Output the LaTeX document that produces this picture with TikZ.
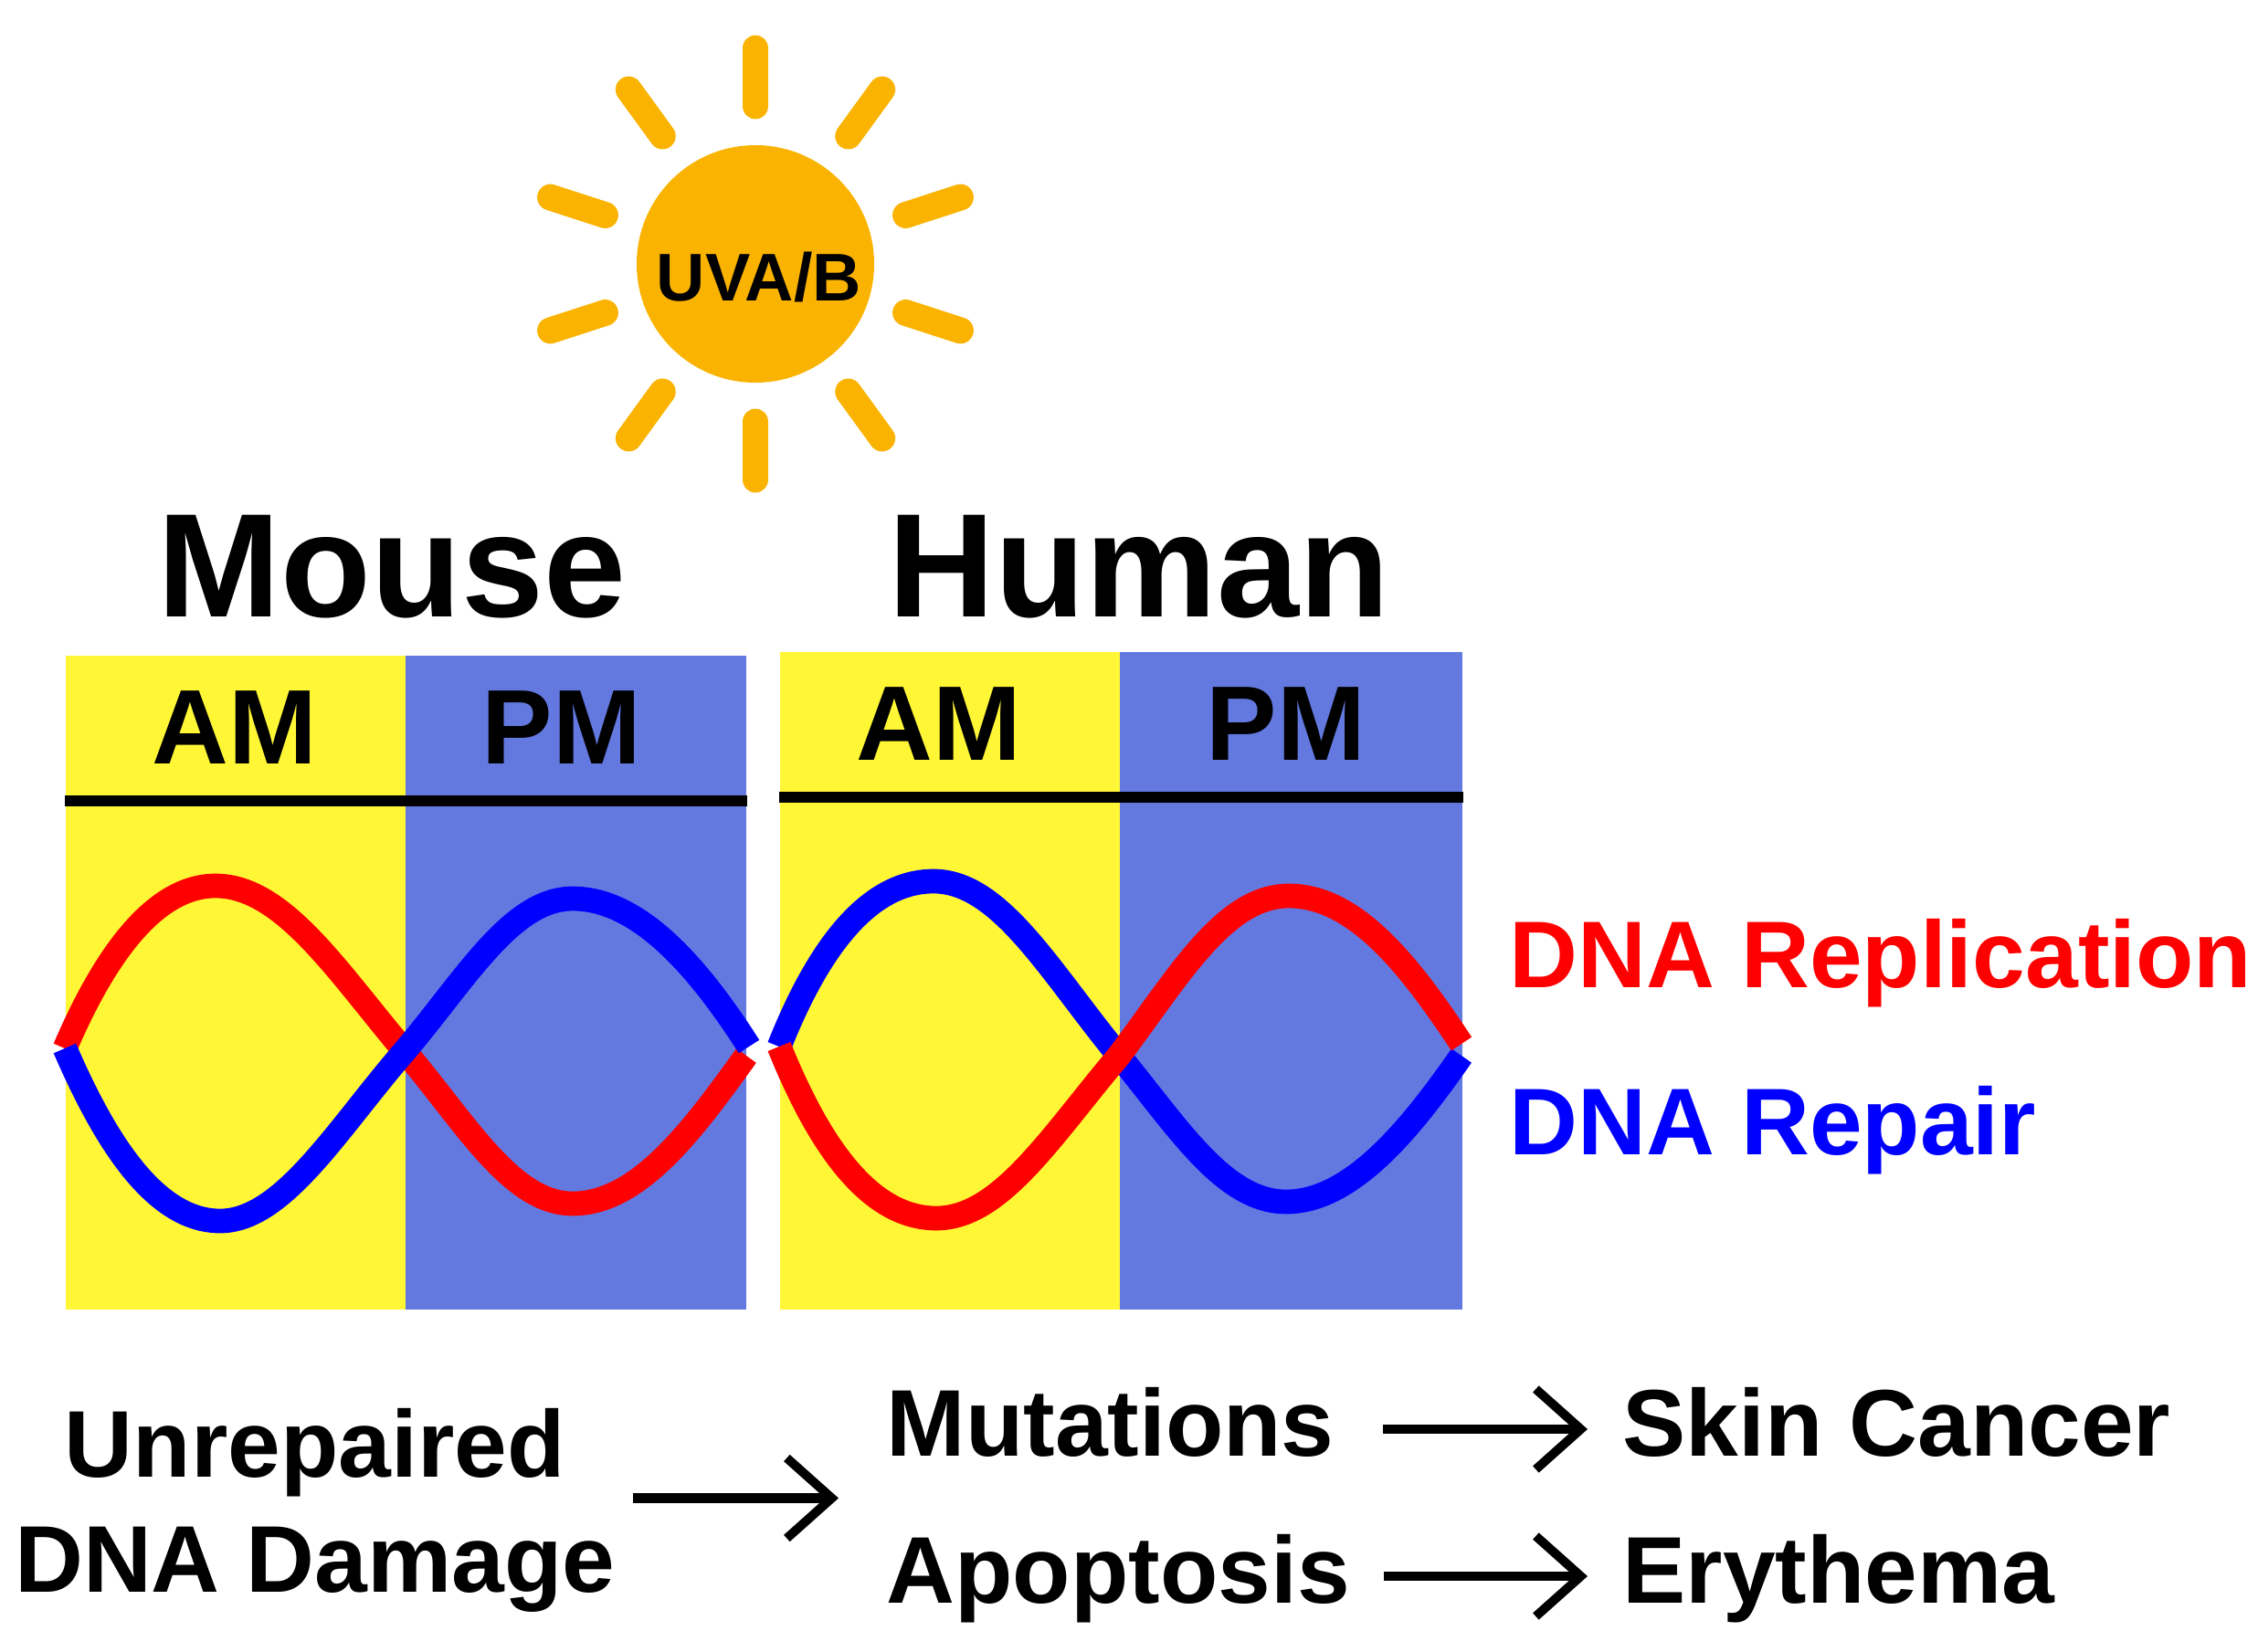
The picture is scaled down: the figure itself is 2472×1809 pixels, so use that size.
\documentclass[tikz,border=0pt]{standalone}
\usepackage{fontspec}
\setmainfont{Liberation Sans}
\usetikzlibrary{arrows.meta,positioning,calc}
\definecolor{SunOrange}{RGB}{250,179,0}
\definecolor{AmYellow}{RGB}{255,247,53}
\definecolor{PmBlue}{RGB}{99,121,224}
\tikzset{
  sunball/.style={circle, fill=SunOrange, minimum size=260*0.01cm, inner sep=0pt},
  ray/.style={line width=8.2pt, line cap=round, SunOrange},
  ampanel/.style={fill=AmYellow, anchor=north west, inner sep=0pt, minimum width=3.72cm},
  pmpanel/.style={fill=PmBlue, anchor=north west, inner sep=0pt, minimum width=3.73cm},
  species/.style={anchor=base, inner sep=0pt, font=\fontsize{46}{50}\selectfont\bfseries},
  period/.style={anchor=base, inner sep=0pt, font=\fontsize{33}{36}\selectfont\bfseries},
  legendlabel/.style={anchor=base west, inner sep=0pt, font=\fontsize{29.5}{34}\selectfont\bfseries},
  outcome/.style={anchor=west, inner sep=0pt, text height=23pt, text depth=6pt,
    font=\fontsize{29.5}{36}\selectfont\bfseries},
  rule/.style={line width=3.4pt, black},
  wave/.style={line width=7.6pt, line join=round},
  arrow/.style={-{Straight Barb[length=14pt, width=25pt, line width=2.8pt]}, line width=3.1pt, black}
}
\begin{document}
\begin{tikzpicture}[x=0.01cm, y=-0.01cm]
  \useasboundingbox (0,0) rectangle (2472,1809);

  % sun
  \node[sunball] (sun) at (827,289) {};
  \node[anchor=base, inner sep=0pt, font=\fontsize{21}{24}\selectfont\bfseries] (uv) at (831,329) {UVA/B};
  \foreach \a in {18,54,...,342} {
    \draw[ray] ($(sun)+(\a:173)$) -- ($(sun)+(\a:236)$);
  }

  % headings
  \node[species] (mouse) at (429,675) {Mouse};
  \node[species] (human) at (1247,675) {Human};

  % mouse panel
  \node[ampanel, minimum height=7.16cm] (mouseam) at (71,717) {};
  \node[pmpanel, minimum height=7.16cm] (mousepm) at (443,717) {};
  \node[period] (amlabela) at (257,836) {AM};
  \node[period] (pmlabela) at (615,836) {PM};
  \draw[rule] (mouseam.west |- 0,877) -- (mousepm.east |- 0,877);

  % human panel
  \node[ampanel, minimum height=7.20cm] (humanam) at (853,713) {};
  \node[pmpanel, minimum height=7.20cm, minimum width=3.75cm] (humanpm) at (1225,713) {};
  \node[period] (amlabelb) at (1028,832) {AM};
  \node[period] (pmlabelb) at (1408,832) {PM};
  \draw[rule] (humanam.west |- 0,873) -- (humanpm.east |- 0,873);

  % mouse curves
  \draw[wave, red] (71,1148) .. controls (115,1045) and (170,970) .. (236,970)
    .. controls (310,970) and (370,1065) .. (443,1151)
    .. controls (510,1230) and (560,1318) .. (627,1318)
    .. controls (700,1318) and (760,1235) .. (817,1156);
  \draw[wave, blue] (71,1148) .. controls (115,1250) and (170,1337) .. (241,1337)
    .. controls (310,1337) and (370,1235) .. (443,1151)
    .. controls (510,1072) and (560,984) .. (627,984)
    .. controls (700,984) and (765,1060) .. (820,1146);

  % human curves
  \draw[wave, blue] (853,1146) .. controls (895,1040) and (950,965) .. (1022,965)
    .. controls (1095,965) and (1150,1065) .. (1225,1156)
    .. controls (1290,1235) and (1340,1316) .. (1408,1316)
    .. controls (1480,1316) and (1545,1235) .. (1600,1156);
  \draw[wave, red] (853,1146) .. controls (895,1250) and (950,1334) .. (1025,1334)
    .. controls (1095,1334) and (1150,1245) .. (1225,1156)
    .. controls (1290,1070) and (1340,981) .. (1411,981)
    .. controls (1485,981) and (1545,1060) .. (1600,1143);

  % legend
  \node[legendlabel, red] (replication) at (1652,1081) {DNA Replication};
  \node[legendlabel, blue] (repair) at (1652,1264) {DNA Repair};

  % bottom row
  \node[inner sep=0pt, align=center, anchor=east,
    font=\fontsize{29.5}{36}\selectfont\bfseries] (damage) at (674,1654) {Unrepaired\\DNA Damage};
  \node[outcome] (mutations) at (970,1565) {Mutations};
  \node[outcome] (apoptosis) at (970,1726) {Apoptosis};
  \node[outcome] (cancer) at (1776,1565) {Skin Cancer};
  \node[outcome] (erythema) at (1776,1726) {Erythema};
  \coordinate (split) at ($(mutations.west)!0.5!(apoptosis.west)+(0,-5)$);

  \draw[arrow, shorten <=19*0.01cm, shorten >=52*0.01cm] (split -| damage.east) -- (split);
  \draw[arrow, shorten <=53*0.01cm, shorten >=38*0.01cm] (mutations.east) -- (cancer.west);
  \draw[arrow, shorten <=36*0.01cm, shorten >=38*0.01cm] (apoptosis.east) -- (erythema.west);
\end{tikzpicture}
\end{document}
